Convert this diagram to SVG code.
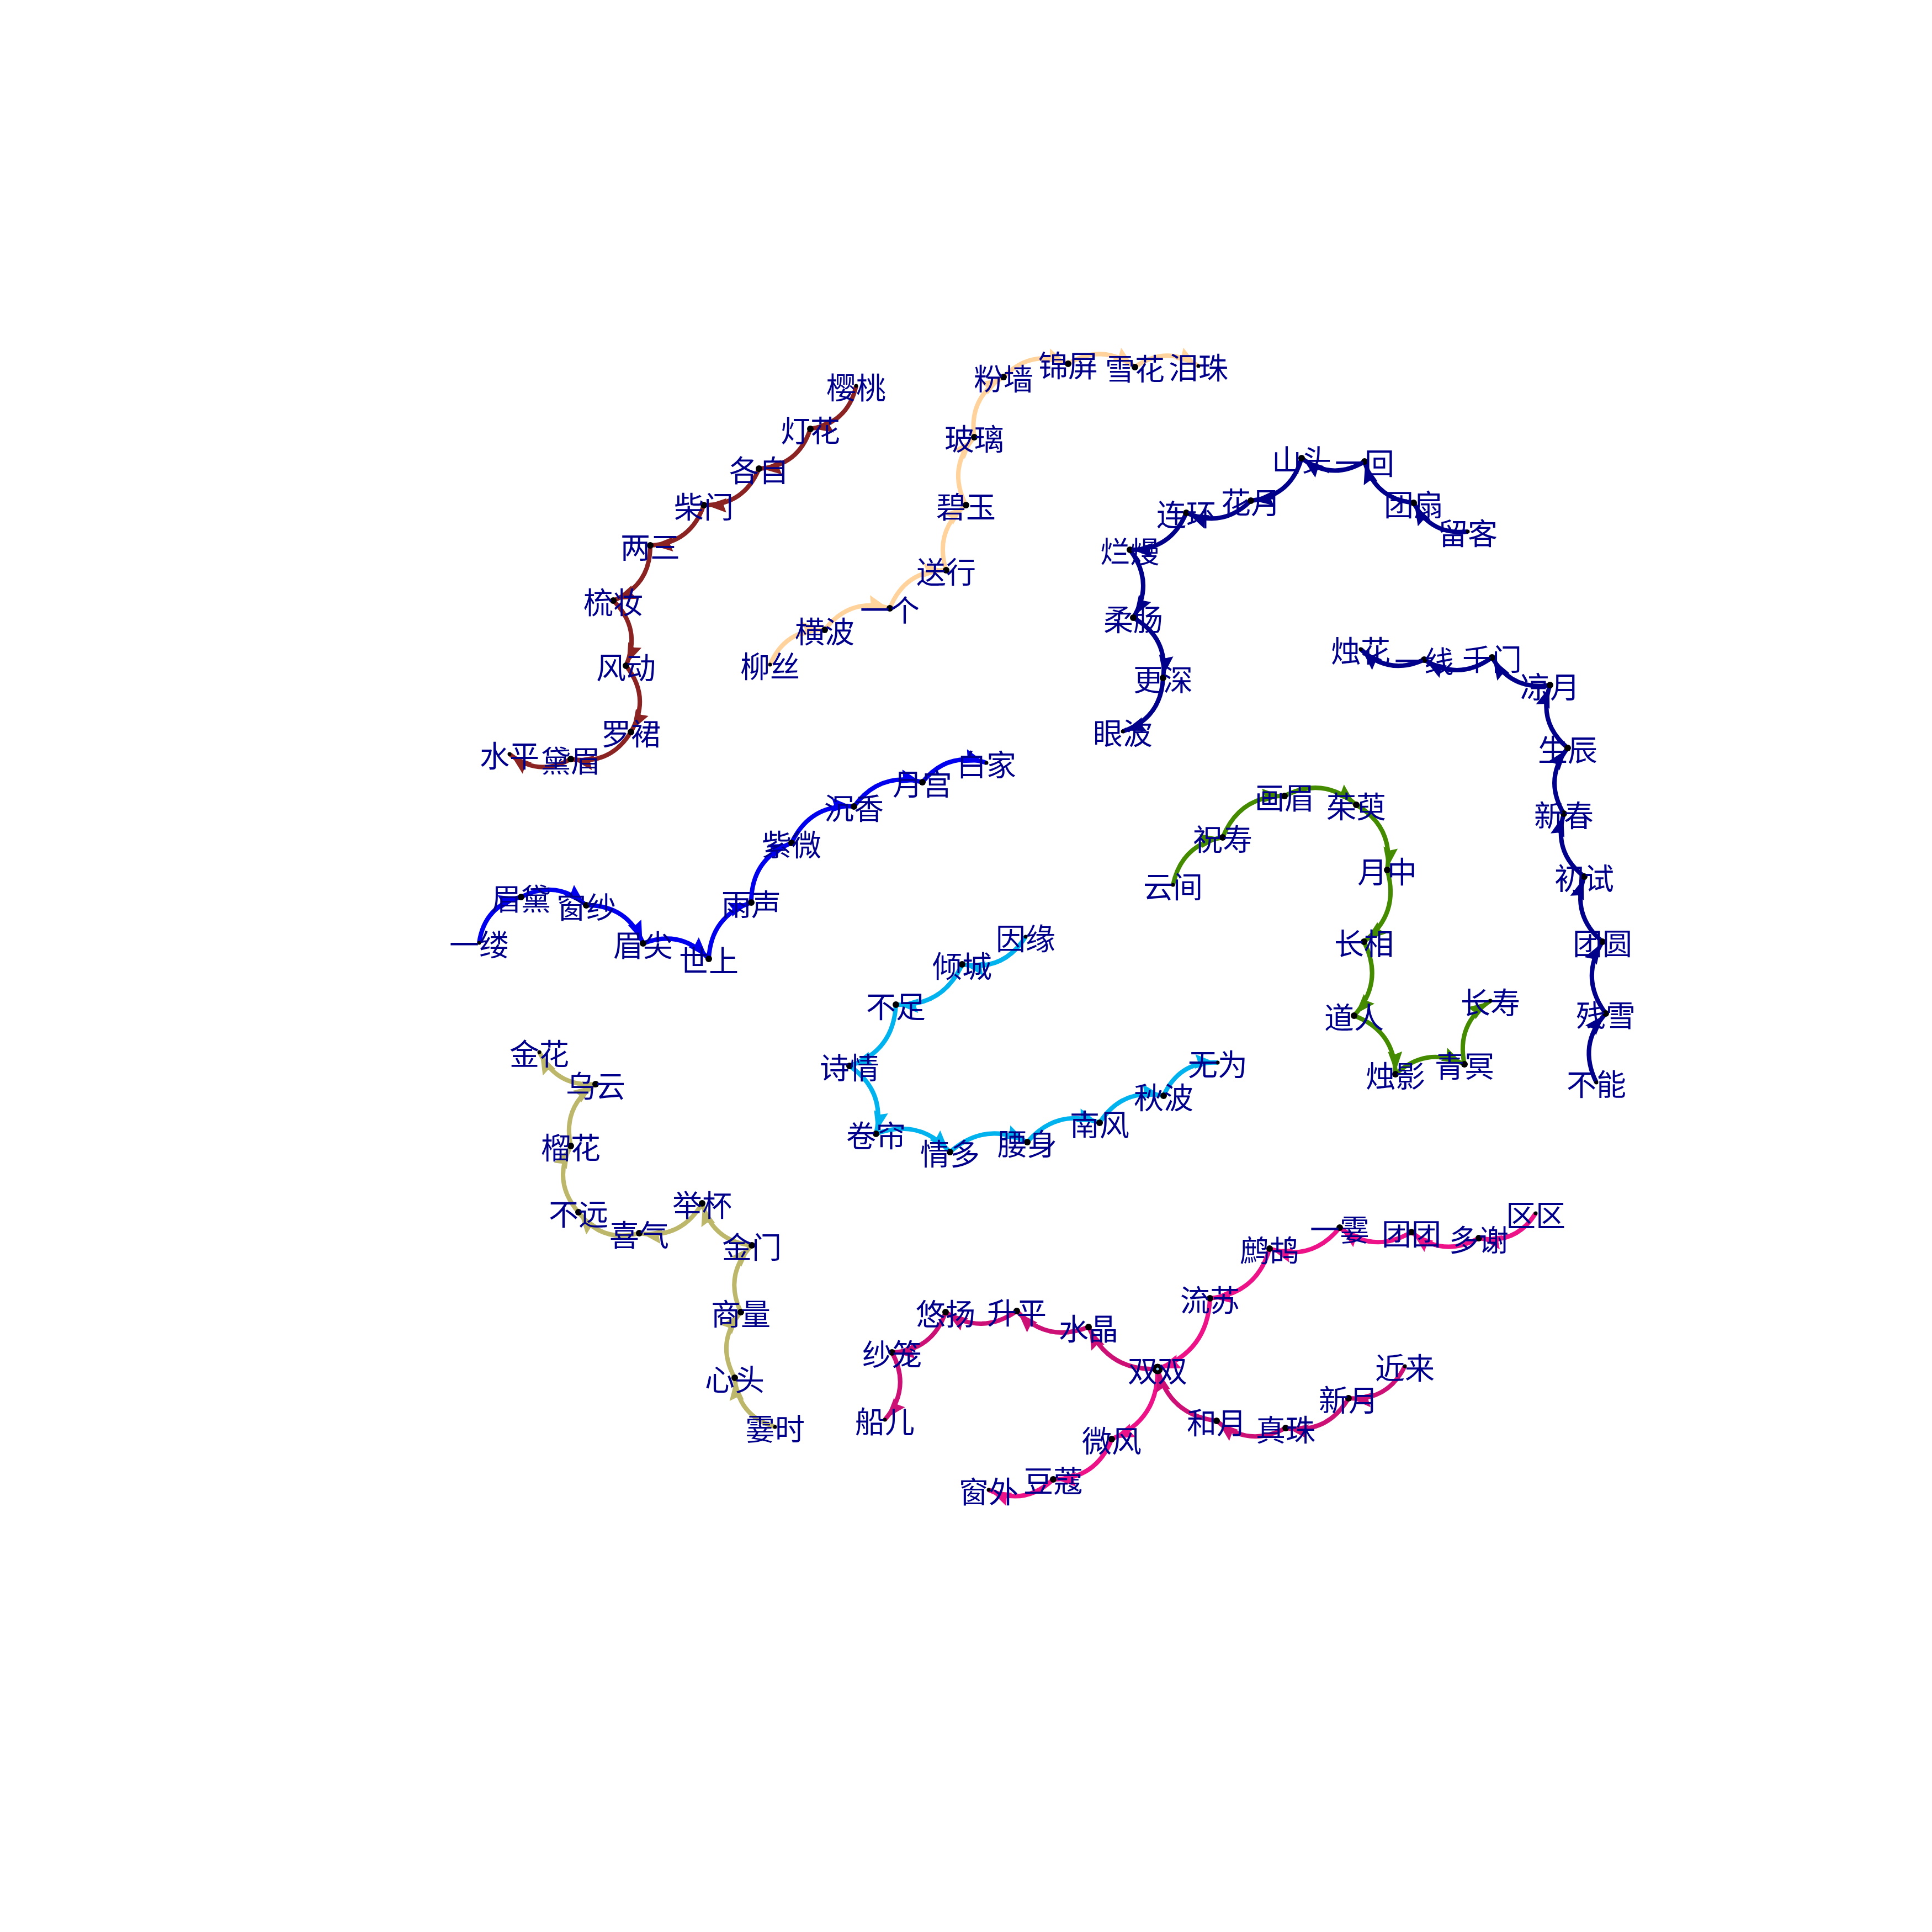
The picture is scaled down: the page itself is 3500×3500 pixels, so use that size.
<svg xmlns="http://www.w3.org/2000/svg" width="3500" height="3500" viewBox="0 0 3500 3500">
<style>
text{font-family:"Noto Sans CJK SC","Noto Sans CJK JP",sans-serif;font-size:54px;fill:#00008B;text-anchor:middle;dominant-baseline:central}
.v{fill:#000}
.e{fill:none;stroke-width:8}
.cR{stroke:#8B2323;marker-end:url(#aR)}
.cB{stroke:#FFD39B;marker-end:url(#aB)}
.cN{stroke:#00008B;marker-end:url(#aN)}
.cG{stroke:#458B00;marker-end:url(#aG)}
.cL{stroke:#0000EE;marker-end:url(#aL)}
.cC{stroke:#00B2EE;marker-end:url(#aC)}
.cO{stroke:#BDB76B;marker-end:url(#aO)}
.cP{stroke:#EE1289;marker-end:url(#aP)}
.cQ{stroke:#CD1076;marker-end:url(#aQ)}
</style>
<defs>
<marker id="aR" viewBox="0 0 42 28" refX="41" refY="14" markerWidth="42" markerHeight="28" markerUnits="userSpaceOnUse" orient="auto"><path d="M0,1 L37,14 L0,27 L5,14 Z" fill="#8B2323"/></marker>
<marker id="aB" viewBox="0 0 42 28" refX="41" refY="14" markerWidth="42" markerHeight="28" markerUnits="userSpaceOnUse" orient="auto"><path d="M0,1 L37,14 L0,27 L5,14 Z" fill="#FFD39B"/></marker>
<marker id="aN" viewBox="0 0 42 28" refX="41" refY="14" markerWidth="42" markerHeight="28" markerUnits="userSpaceOnUse" orient="auto"><path d="M0,1 L37,14 L0,27 L5,14 Z" fill="#00008B"/></marker>
<marker id="aG" viewBox="0 0 42 28" refX="41" refY="14" markerWidth="42" markerHeight="28" markerUnits="userSpaceOnUse" orient="auto"><path d="M0,1 L37,14 L0,27 L5,14 Z" fill="#458B00"/></marker>
<marker id="aL" viewBox="0 0 42 28" refX="41" refY="14" markerWidth="42" markerHeight="28" markerUnits="userSpaceOnUse" orient="auto"><path d="M0,1 L37,14 L0,27 L5,14 Z" fill="#0000EE"/></marker>
<marker id="aC" viewBox="0 0 42 28" refX="41" refY="14" markerWidth="42" markerHeight="28" markerUnits="userSpaceOnUse" orient="auto"><path d="M0,1 L37,14 L0,27 L5,14 Z" fill="#00B2EE"/></marker>
<marker id="aO" viewBox="0 0 42 28" refX="41" refY="14" markerWidth="42" markerHeight="28" markerUnits="userSpaceOnUse" orient="auto"><path d="M0,1 L37,14 L0,27 L5,14 Z" fill="#BDB76B"/></marker>
<marker id="aP" viewBox="0 0 42 28" refX="41" refY="14" markerWidth="42" markerHeight="28" markerUnits="userSpaceOnUse" orient="auto"><path d="M0,1 L37,14 L0,27 L5,14 Z" fill="#EE1289"/></marker>
<marker id="aQ" viewBox="0 0 42 28" refX="41" refY="14" markerWidth="42" markerHeight="28" markerUnits="userSpaceOnUse" orient="auto"><path d="M0,1 L37,14 L0,27 L5,14 Z" fill="#CD1076"/></marker>
</defs>
<rect width="3500" height="3500" fill="#fff"/>
<g id="edges">
<g id="edges-brown" class="e cR">
<path d="M1551,699 q-15,67.2 -83,78"/>
<path d="M1468,777 q-22,67.6 -93,72"/>
<path d="M1375,849 q-27.6,67 -100,66"/>
<path d="M1275,915 q-23.7,69.5 -97,73"/>
<path d="M1178,988 q0.5,72.8 -67,100"/>
<path d="M1111,1088 q51.6,51.2 23,118"/>
<path d="M1134,1206 q45.3,56.9 9,120"/>
<path d="M1143,1326 q-37.8,61.6 -109,49"/>
<path d="M1034,1375 q-58.6,33.2 -111,-9"/>
</g>
<g id="edges-beige" class="e cB">
<path d="M1395,1204 q28.1,-65.2 99,-63"/>
<path d="M1494,1141 q45.7,-59.6 118,-39"/>
<path d="M1612,1102 q27.5,-69.2 102,-69"/>
<path d="M1714,1033 q-22.1,-71.2 36,-118"/>
<path d="M1750,915 q-34.3,-66.6 15,-123"/>
<path d="M1765,792 q-10.6,-72.5 53,-109"/>
<path d="M1818,683 q50.3,-51.8 117,-24"/>
<path d="M1935,659 q62.5,-38.1 121,6"/>
<path d="M2056,665 q56.8,-40.1 115,-2"/>
</g>
<g id="edges-navy1" class="e cN">
<path d="M2659,963 q-66.7,7.3 -98,-52"/>
<path d="M2561,911 q-70,-7.2 -89,-75"/>
<path d="M2472,836 q-59,35.8 -114,-6"/>
<path d="M2358,830 q-19.8,69.8 -92,77"/>
<path d="M2266,907 q-51,50.8 -117,22"/>
<path d="M2149,929 q-28.2,68.2 -102,67"/>
<path d="M2047,996 q44.8,59.5 6,123"/>
<path d="M2053,1119 q64.1,36.1 54,109"/>
<path d="M2107,1228 q-3.5,73.3 -73,97"/>
</g>
<g id="edges-navy2" class="e cN">
<path d="M2892,1961 q-34,-68.3 17,-125"/>
<path d="M2909,1836 q-47.2,-63 -6,-130"/>
<path d="M2903,1706 q-56.6,-47.8 -33,-118"/>
<path d="M2870,1588 q-57.3,-44.4 -37,-114"/>
<path d="M2833,1474 q-37,-61.9 7,-119"/>
<path d="M2840,1355 q-54.8,-46.1 -32,-114"/>
<path d="M2808,1241 q-69.5,10.7 -105,-50"/>
<path d="M2703,1191 q-60.1,43.8 -123,4"/>
<path d="M2580,1195 q-64,29.6 -115,-19"/>
</g>
<g id="edges-green" class="e cG">
<path d="M2125,1603 q15.8,-73.6 90,-86"/>
<path d="M2215,1517 q30.5,-75.6 112,-75"/>
<path d="M2327,1442 q70.4,-36.2 130,16"/>
<path d="M2457,1458 q68.1,40 56,118"/>
<path d="M2513,1576 q23.2,79.3 -42,130"/>
<path d="M2471,1706 q36.6,73.1 -18,134"/>
<path d="M2453,1840 q73.5,27.5 75,106"/>
<path d="M2528,1946 q56.4,-51.5 125,-18"/>
<path d="M2653,1928 q-15.6,-73.5 47,-115"/>
</g>
<g id="edges-blue" class="e cL">
<path d="M868,1708 q9.8,-67.3 76,-83"/>
<path d="M944,1625 q64.1,-32.6 118,15"/>
<path d="M1062,1640 q75,-0.5 103,69"/>
<path d="M1165,1709 q69,-26.5 119,28"/>
<path d="M1284,1737 q3.8,-77.2 77,-102"/>
<path d="M1361,1635 q-0.2,-78.8 73,-108"/>
<path d="M1434,1527 q34.1,-71.4 113,-66"/>
<path d="M1547,1461 q47,-64.2 124,-44"/>
<path d="M1671,1417 q46.1,-56.9 116,-35"/>
</g>
<g id="edges-cyan" class="e cC">
<path d="M1858,1697 q-40.5,64.1 -115,50"/>
<path d="M1743,1747 q-35.2,77.3 -120,73"/>
<path d="M1623,1820 q-4.3,84.1 -84,111"/>
<path d="M1539,1931 q65.8,45.2 48,123"/>
<path d="M1587,2054 q78.2,-29.1 134,33"/>
<path d="M1721,2087 q63.9,-56.6 140,-18"/>
<path d="M1861,2069 q53.6,-62 131,-35"/>
<path d="M1992,2034 q41.3,-63.9 116,-49"/>
<path d="M2108,1985 q28.6,-63.3 98,-60"/>
</g>
<g id="edges-olive" class="e cO">
<path d="M1404,2585 q-66.8,-19.7 -73,-89"/>
<path d="M1331,2496 q-35,-63.2 11,-119"/>
<path d="M1342,2377 q-31.1,-67.3 20,-121"/>
<path d="M1362,2256 q-70.8,-7.4 -90,-76"/>
<path d="M1272,2180 q-38.6,65.8 -114,54"/>
<path d="M1158,2234 q-67.9,18.4 -110,-38"/>
<path d="M1048,2196 q-47.8,-55.2 -14,-120"/>
<path d="M1034,2076 q-15.6,-71.3 45,-112"/>
<path d="M1079,1964 q-70.7,5.7 -102,-58"/>
</g>
<g id="edges-pink" class="e cP">
<path d="M2782,2198 q-36.2,57.5 -103,45"/>
<path d="M2679,2243 q-64.7,36 -122,-11"/>
<path d="M2557,2232 q-67.7,40.2 -130,-8"/>
<path d="M2427,2224 q-50.6,62.2 -127,38"/>
<path d="M2300,2262 q-23.4,81.7 -108,90"/>
<path d="M2192,2352 q-4,96.3 -95,128"/>
<path d="M2097,2480 q1.7,91.7 -83,127"/>
<path d="M2014,2607 q-28.2,72.5 -106,73"/>
<path d="M1908,2680 q-52,49.3 -117,19"/>
</g>
<g id="edges-magenta" class="e cQ">
<path d="M2545,2475 q-31.3,63.7 -102,58"/>
<path d="M2443,2533 q-38.6,65.8 -114,54"/>
<path d="M2329,2587 q-66.9,36 -125,-13"/>
<path d="M2204,2574 q-85.5,-10.6 -107,-94"/>
<path d="M2097,2480 q-88.3,4.5 -125,-76"/>
<path d="M1972,2404 q-74.9,29.7 -130,-29"/>
<path d="M1842,2375 q-63.8,44.9 -129,2"/>
<path d="M1713,2377 q-23.7,69.5 -97,73"/>
<path d="M1616,2450 q35,65.4 -13,122"/>
</g>
</g>
<g id="nodes">
<g id="n-r1"><circle class="v" cx="1551" cy="699" r="3.5"/><text x="1551" y="699">樱桃</text></g>
<g id="n-r2"><circle class="v" cx="1468" cy="777" r="6"/><text x="1468" y="777">灯花</text></g>
<g id="n-r3"><circle class="v" cx="1375" cy="849" r="6"/><text x="1375" y="849">各自</text></g>
<g id="n-r4"><circle class="v" cx="1275" cy="915" r="6"/><text x="1275" y="915">柴门</text></g>
<g id="n-r5"><circle class="v" cx="1178" cy="988" r="6"/><text x="1178" y="988">两三</text></g>
<g id="n-r6"><circle class="v" cx="1111" cy="1088" r="6"/><text x="1111" y="1088">梳妆</text></g>
<g id="n-r7"><circle class="v" cx="1134" cy="1206" r="6"/><text x="1134" y="1206">风动</text></g>
<g id="n-r8"><circle class="v" cx="1143" cy="1326" r="6"/><text x="1143" y="1326">罗裙</text></g>
<g id="n-r9"><circle class="v" cx="1034" cy="1375" r="6"/><text x="1034" y="1375">黛眉</text></g>
<g id="n-r10"><circle class="v" cx="923" cy="1366" r="3.5"/><text x="923" y="1366">水平</text></g>

<g id="n-b1"><circle class="v" cx="1395" cy="1204" r="3.5"/><text x="1395" y="1204">柳丝</text></g>
<g id="n-b2"><circle class="v" cx="1494" cy="1141" r="6"/><text x="1494" y="1141">横波</text></g>
<g id="n-b3"><circle class="v" cx="1612" cy="1102" r="6"/><text x="1612" y="1102">一个</text></g>
<g id="n-b4"><circle class="v" cx="1714" cy="1033" r="6"/><text x="1714" y="1033">送行</text></g>
<g id="n-b5"><circle class="v" cx="1750" cy="915" r="6"/><text x="1750" y="915">碧玉</text></g>
<g id="n-b6"><circle class="v" cx="1765" cy="792" r="6"/><text x="1765" y="792">玻璃</text></g>
<g id="n-b7"><circle class="v" cx="1818" cy="683" r="6"/><text x="1818" y="683">粉墙</text></g>
<g id="n-b8"><circle class="v" cx="1935" cy="659" r="6"/><text x="1935" y="659">锦屏</text></g>
<g id="n-b9"><circle class="v" cx="2056" cy="665" r="6"/><text x="2056" y="665">雪花</text></g>
<g id="n-b10"><circle class="v" cx="2171" cy="663" r="3.5"/><text x="2171" y="663">泪珠</text></g>

<g id="n-a1"><circle class="v" cx="2659" cy="963" r="3.5"/><text x="2659" y="963">留客</text></g>
<g id="n-a2"><circle class="v" cx="2561" cy="911" r="6"/><text x="2561" y="911">团扇</text></g>
<g id="n-a3"><circle class="v" cx="2472" cy="836" r="6"/><text x="2472" y="836">一回</text></g>
<g id="n-a4"><circle class="v" cx="2358" cy="830" r="6"/><text x="2358" y="830">山头</text></g>
<g id="n-a5"><circle class="v" cx="2266" cy="907" r="6"/><text x="2266" y="907">花月</text></g>
<g id="n-a6"><circle class="v" cx="2149" cy="929" r="6"/><text x="2149" y="929">连环</text></g>
<g id="n-a7"><circle class="v" cx="2047" cy="996" r="6"/><text x="2047" y="996">烂熳</text></g>
<g id="n-a8"><circle class="v" cx="2053" cy="1119" r="6"/><text x="2053" y="1119">柔肠</text></g>
<g id="n-a9"><circle class="v" cx="2107" cy="1228" r="6"/><text x="2107" y="1228">更深</text></g>
<g id="n-a10"><circle class="v" cx="2034" cy="1325" r="3.5"/><text x="2034" y="1325">眼波</text></g>

<g id="n-d1"><circle class="v" cx="2892" cy="1961" r="3.5"/><text x="2892" y="1961">不能</text></g>
<g id="n-d2"><circle class="v" cx="2909" cy="1836" r="6"/><text x="2909" y="1836">残雪</text></g>
<g id="n-d3"><circle class="v" cx="2903" cy="1706" r="6"/><text x="2903" y="1706">团圆</text></g>
<g id="n-d4"><circle class="v" cx="2870" cy="1588" r="6"/><text x="2870" y="1588">初试</text></g>
<g id="n-d5"><circle class="v" cx="2833" cy="1474" r="6"/><text x="2833" y="1474">新春</text></g>
<g id="n-d6"><circle class="v" cx="2840" cy="1355" r="6"/><text x="2840" y="1355">生辰</text></g>
<g id="n-d7"><circle class="v" cx="2808" cy="1241" r="6"/><text x="2808" y="1241">凉月</text></g>
<g id="n-d8"><circle class="v" cx="2703" cy="1191" r="6"/><text x="2703" y="1191">千门</text></g>
<g id="n-d9"><circle class="v" cx="2580" cy="1195" r="6"/><text x="2580" y="1195">一线</text></g>
<g id="n-d10"><circle class="v" cx="2465" cy="1176" r="3.5"/><text x="2465" y="1176">烛花</text></g>

<g id="n-g1"><circle class="v" cx="2125" cy="1603" r="3.5"/><text x="2125" y="1603">云间</text></g>
<g id="n-g2"><circle class="v" cx="2215" cy="1517" r="6"/><text x="2215" y="1517">祝寿</text></g>
<g id="n-g3"><circle class="v" cx="2327" cy="1442" r="6"/><text x="2327" y="1442">画眉</text></g>
<g id="n-g4"><circle class="v" cx="2457" cy="1458" r="6"/><text x="2457" y="1458">茱萸</text></g>
<g id="n-g5"><circle class="v" cx="2513" cy="1576" r="6"/><text x="2513" y="1576">月中</text></g>
<g id="n-g6"><circle class="v" cx="2471" cy="1706" r="6"/><text x="2471" y="1706">长相</text></g>
<g id="n-g7"><circle class="v" cx="2453" cy="1840" r="6"/><text x="2453" y="1840">道人</text></g>
<g id="n-g8"><circle class="v" cx="2528" cy="1946" r="6"/><text x="2528" y="1946">烛影</text></g>
<g id="n-g9"><circle class="v" cx="2653" cy="1928" r="6"/><text x="2653" y="1928">青冥</text></g>
<g id="n-g10"><circle class="v" cx="2700" cy="1813" r="3.5"/><text x="2700" y="1813">长寿</text></g>

<g id="n-l1"><circle class="v" cx="868" cy="1708" r="3.5"/><text x="868" y="1708">一缕</text></g>
<g id="n-l2"><circle class="v" cx="944" cy="1625" r="6"/><text x="944" y="1625">眉黛</text></g>
<g id="n-l3"><circle class="v" cx="1062" cy="1640" r="6"/><text x="1062" y="1640">窗纱</text></g>
<g id="n-l4"><circle class="v" cx="1165" cy="1709" r="6"/><text x="1165" y="1709">眉尖</text></g>
<g id="n-l5"><circle class="v" cx="1284" cy="1737" r="6"/><text x="1284" y="1737">世上</text></g>
<g id="n-l6"><circle class="v" cx="1361" cy="1635" r="6"/><text x="1361" y="1635">雨声</text></g>
<g id="n-l7"><circle class="v" cx="1434" cy="1527" r="6"/><text x="1434" y="1527">紫微</text></g>
<g id="n-l8"><circle class="v" cx="1547" cy="1461" r="6"/><text x="1547" y="1461">沉香</text></g>
<g id="n-l9"><circle class="v" cx="1671" cy="1417" r="6"/><text x="1671" y="1417">月宫</text></g>
<g id="n-l10"><circle class="v" cx="1787" cy="1382" r="3.5"/><text x="1787" y="1382">白家</text></g>

<g id="n-c1"><circle class="v" cx="1858" cy="1697" r="3.5"/><text x="1858" y="1697">因缘</text></g>
<g id="n-c2"><circle class="v" cx="1743" cy="1747" r="6"/><text x="1743" y="1747">倾城</text></g>
<g id="n-c3"><circle class="v" cx="1623" cy="1820" r="6"/><text x="1623" y="1820">不足</text></g>
<g id="n-c4"><circle class="v" cx="1539" cy="1931" r="6"/><text x="1539" y="1931">诗情</text></g>
<g id="n-c5"><circle class="v" cx="1587" cy="2054" r="6"/><text x="1587" y="2054">卷帘</text></g>
<g id="n-c6"><circle class="v" cx="1721" cy="2087" r="6"/><text x="1721" y="2087">情多</text></g>
<g id="n-c7"><circle class="v" cx="1861" cy="2069" r="6"/><text x="1861" y="2069">腰身</text></g>
<g id="n-c8"><circle class="v" cx="1992" cy="2034" r="6"/><text x="1992" y="2034">南风</text></g>
<g id="n-c9"><circle class="v" cx="2108" cy="1985" r="6"/><text x="2108" y="1985">秋波</text></g>
<g id="n-c10"><circle class="v" cx="2206" cy="1925" r="3.5"/><text x="2206" y="1925">无为</text></g>

<g id="n-o1"><circle class="v" cx="1404" cy="2585" r="3.5"/><text x="1404" y="2585">霎时</text></g>
<g id="n-o2"><circle class="v" cx="1331" cy="2496" r="6"/><text x="1331" y="2496">心头</text></g>
<g id="n-o3"><circle class="v" cx="1342" cy="2377" r="6"/><text x="1342" y="2377">商量</text></g>
<g id="n-o4"><circle class="v" cx="1362" cy="2256" r="6"/><text x="1362" y="2256">金门</text></g>
<g id="n-o5"><circle class="v" cx="1272" cy="2180" r="6"/><text x="1272" y="2180">举杯</text></g>
<g id="n-o6"><circle class="v" cx="1158" cy="2234" r="6"/><text x="1158" y="2234">喜气</text></g>
<g id="n-o7"><circle class="v" cx="1048" cy="2196" r="6"/><text x="1048" y="2196">不远</text></g>
<g id="n-o8"><circle class="v" cx="1034" cy="2076" r="6"/><text x="1034" y="2076">榴花</text></g>
<g id="n-o9"><circle class="v" cx="1079" cy="1964" r="6"/><text x="1079" y="1964">乌云</text></g>
<g id="n-o10"><circle class="v" cx="977" cy="1906" r="3.5"/><text x="977" y="1906">金花</text></g>

<g id="n-p1"><circle class="v" cx="2782" cy="2198" r="3.5"/><text x="2782" y="2198">区区</text></g>
<g id="n-p2"><circle class="v" cx="2679" cy="2243" r="6"/><text x="2679" y="2243">多谢</text></g>
<g id="n-p3"><circle class="v" cx="2557" cy="2232" r="6"/><text x="2557" y="2232">团团</text></g>
<g id="n-p4"><circle class="v" cx="2427" cy="2224" r="6"/><text x="2427" y="2224">一霎</text></g>
<g id="n-p5"><circle class="v" cx="2300" cy="2262" r="6"/><text x="2300" y="2262">鹧鸪</text></g>
<g id="n-p6"><circle class="v" cx="2192" cy="2352" r="6"/><text x="2192" y="2352">流苏</text></g>
<g id="n-hub"><circle class="v" cx="2097" cy="2480" r="9.5"/><circle cx="2097" cy="2480" r="2.5" fill="#87CEFA"/><text x="2097" y="2480">双双</text></g>
<g id="n-p8"><circle class="v" cx="2014" cy="2607" r="6"/><text x="2014" y="2607">微风</text></g>
<g id="n-p9"><circle class="v" cx="1908" cy="2680" r="6"/><text x="1908" y="2680">豆蔻</text></g>
<g id="n-p10"><circle class="v" cx="1791" cy="2699" r="3.5"/><text x="1791" y="2699">窗外</text></g>

<g id="n-q1"><circle class="v" cx="2545" cy="2475" r="3.5"/><text x="2545" y="2475">近来</text></g>
<g id="n-q2"><circle class="v" cx="2443" cy="2533" r="6"/><text x="2443" y="2533">新月</text></g>
<g id="n-q3"><circle class="v" cx="2329" cy="2587" r="6"/><text x="2329" y="2587">真珠</text></g>
<g id="n-q4"><circle class="v" cx="2204" cy="2574" r="6"/><text x="2204" y="2574">和月</text></g>
<g id="n-q6"><circle class="v" cx="1972" cy="2404" r="6"/><text x="1972" y="2404">水晶</text></g>
<g id="n-q7"><circle class="v" cx="1842" cy="2375" r="6"/><text x="1842" y="2375">升平</text></g>
<g id="n-q8"><circle class="v" cx="1713" cy="2377" r="6"/><text x="1713" y="2377">悠扬</text></g>
<g id="n-q9"><circle class="v" cx="1616" cy="2450" r="6"/><text x="1616" y="2450">纱笼</text></g>
<g id="n-q10"><circle class="v" cx="1603" cy="2572" r="3.5"/><text x="1603" y="2572">船儿</text></g>
</g>
</svg>
